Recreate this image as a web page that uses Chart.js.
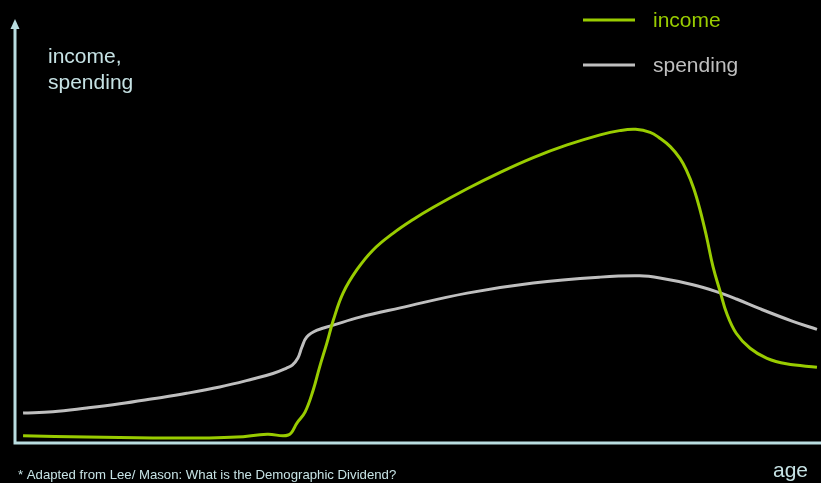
<!DOCTYPE html>
<html>
<head>
<meta charset="utf-8">
<script src="https://cdn.jsdelivr.net/npm/chart.js@4"></script>
<style>
  html, body { margin: 0; padding: 0; background: #000; }
  #wrap { position: relative; width: 821px; height: 483px; }
</style>
</head>
<body>
<div id="wrap"><canvas id="chart" width="821" height="483"></canvas></div>
<script>
// data (age 0..100, value 0..100, arbitrary units)
const incomeAge = [1.0, 8.9, 17.1, 23.3, 27.5, 31.3, 33.9, 35.0, 36.0, 37.0, 37.8, 38.7, 39.5, 40.7, 42.4, 44.4, 46.9, 49.4, 51.9, 56.1, 60.2, 64.3, 68.5, 72.6, 75.0, 77.0, 78.8, 80.0, 81.3, 82.5, 83.3, 84.2, 85.0, 85.8, 86.6, 87.5, 88.3, 89.5, 91.2, 93.3, 95.7, 99.5];
const incomeVal = [1.7, 1.4, 1.2, 1.2, 1.4, 2.1, 1.9, 4.8, 7.4, 12.6, 18.1, 23.8, 29.2, 35.6, 41.1, 45.8, 49.8, 53.1, 56.0, 60.4, 64.3, 67.8, 70.8, 73.2, 74.2, 74.5, 73.8, 72.4, 70.4, 67.6, 64.8, 60.5, 55.3, 49.0, 41.9, 35.9, 30.8, 26.0, 22.5, 20.1, 18.8, 18.0];

const spendAge = [1.0, 4.7, 8.9, 13.0, 17.1, 21.3, 25.4, 29.5, 32.0, 33.7, 34.4, 35.1, 35.6, 36.2, 37.5, 39.5, 42.8, 47.8, 56.1, 64.3, 72.6, 77.5, 80.0, 84.1, 87.1, 89.5, 92.4, 96.5, 99.5];
const spendVal = [7.1, 7.4, 8.3, 9.3, 10.5, 11.8, 13.3, 15.2, 16.5, 17.8, 18.5, 20.2, 22.8, 25.2, 26.8, 28.0, 29.9, 32.1, 35.6, 38.0, 39.4, 39.7, 39.2, 37.6, 35.9, 34.2, 31.9, 28.9, 27.0];

const seriesNames = ['income', 'spending'];
const seriesColors = ['#99cc00', '#bfbfbf'];

const axisColor = '#b9dde0';
const textColor = '#c6e2e4';
const fontFamily = '"Liberation Sans", Arial, sans-serif';

function toPoints(xs, ys) {
    return xs.map((x, i) => ({ x: x, y: ys[i] }));
}

// axes with arrow head + free text labels + legend
const decorPlugin = {
    id: 'decor',
    beforeDatasetsDraw(chart) {
        const { ctx, chartArea: a } = chart;
        ctx.save();
        ctx.strokeStyle = axisColor;
        ctx.fillStyle = axisColor;
        ctx.lineWidth = 3;
        ctx.beginPath();
        ctx.moveTo(a.left, a.bottom);
        ctx.lineTo(a.left, a.top + 6);
        ctx.moveTo(a.left - 1.5, a.bottom);
        ctx.lineTo(chart.width, a.bottom);
        ctx.stroke();
        // arrow head
        ctx.beginPath();
        ctx.moveTo(a.left, a.top - 3);
        ctx.lineTo(a.left - 4.5, a.top + 7);
        ctx.lineTo(a.left + 4.5, a.top + 7);
        ctx.closePath();
        ctx.fill();
        ctx.restore();
    },
    afterDraw(chart) {
        const ctx = chart.ctx;
        ctx.save();
        ctx.textBaseline = 'alphabetic';
        ctx.textAlign = 'left';
        ctx.font = '21px ' + fontFamily;
        ctx.fillStyle = textColor;
        ctx.fillText('income,', 48, 63);
        ctx.fillText('spending', 48, 89);
        ctx.fillText('age', 773, 477);
        ctx.font = '13.2px ' + fontFamily;
        ctx.fillText('* Adapted from Lee/ Mason: What is the Demographic Dividend?', 18, 479);

        // legend
        const rows = [20, 65];
        chart.data.datasets.forEach((ds, i) => {
            const y = rows[i];
            ctx.strokeStyle = ds.borderColor;
            ctx.lineWidth = 3;
            ctx.beginPath();
            ctx.moveTo(583, y);
            ctx.lineTo(635, y);
            ctx.stroke();
            ctx.fillStyle = ds.borderColor;
            ctx.font = '21px ' + fontFamily;
            ctx.fillText(ds.label, 653, y + 7);
        });
        ctx.restore();
    }
};

const ctx = document.getElementById('chart').getContext('2d');
new Chart(ctx, {
    type: 'line',
    data: {
        datasets: [
            {
                label: seriesNames[0],
                data: toPoints(incomeAge, incomeVal),
                borderColor: seriesColors[0],
                borderWidth: 3,
                pointRadius: 0,
                tension: 0.4,
                fill: false
            },
            {
                label: seriesNames[1],
                data: toPoints(spendAge, spendVal),
                borderColor: seriesColors[1],
                borderWidth: 3,
                pointRadius: 0,
                tension: 0.4,
                fill: false
            }
        ]
    },
    options: {
        responsive: false,
        animation: false,
        layout: { padding: { left: 15, right: 0, top: 22, bottom: 40 } },
        plugins: {
            legend: { display: false },
            tooltip: { enabled: false }
        },
        scales: {
            x: { type: 'linear', min: 0, max: 100, display: false },
            y: { min: 0, max: 100, display: false }
        }
    },
    plugins: [decorPlugin]
});
</script>
</body>
</html>
